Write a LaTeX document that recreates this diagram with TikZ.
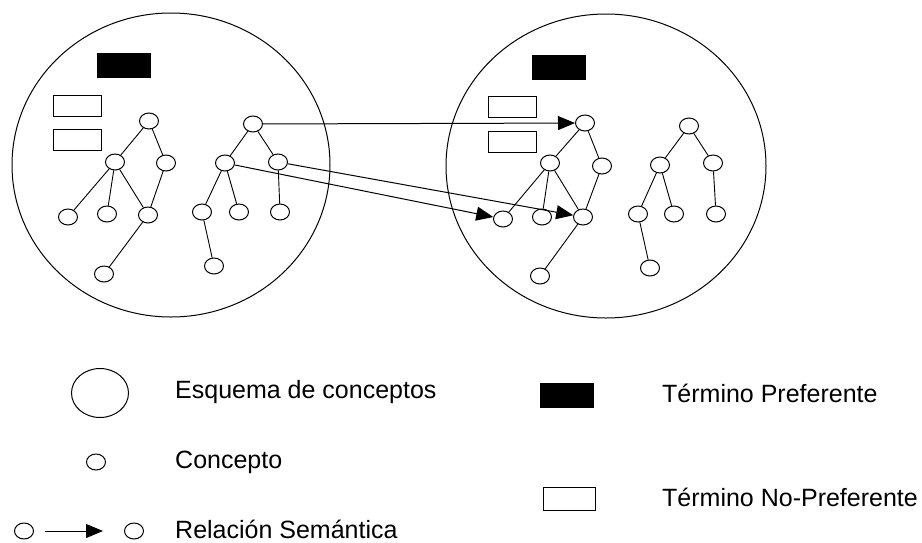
\documentclass[tikz,border=0pt]{standalone}
\usepackage{fontspec}
\setmainfont{Liberation Sans}
\usetikzlibrary{shapes.geometric,arrows.meta}
\begin{document}
\begin{tikzpicture}[x=1pt,y=-1pt,
  schema/.style={draw, ellipse, line width=1pt, inner sep=0pt},
  concept/.style={draw, ellipse, line width=1pt, inner sep=0pt, minimum width=19pt, minimum height=16pt},
  pref/.style={draw, fill=black, inner sep=0pt, minimum width=53pt, minimum height=24pt},
  nopref/.style={draw, fill=white, line width=1pt, inner sep=0pt, minimum width=48pt, minimum height=21pt},
  edge/.style={line width=0.9pt},
  rel/.style={line width=1pt, -{Triangle[length=17pt,width=14pt]}},
  lbl/.style={anchor=west, inner sep=0pt, font=\fontsize{25}{28}\selectfont}
]
\useasboundingbox (0,0) rectangle (922,542);

% ---- left schema
\node[schema, minimum width=318pt, minimum height=304pt] (S1) at (171,165) {};
\node[pref] (P1) at (123.5,65) {};
\node[nopref] (N1a) at (77,105.5) {};
\node[nopref] (N1b) at (77,140) {};
\node[concept] (A) at (149,121) {};
\node[concept] (B) at (115,162) {};
\node[concept] (C) at (166,163) {};
\node[concept] (D) at (68,217) {};
\node[concept] (E) at (107,214) {};
\node[concept] (F) at (148,215) {};
\node[concept] (G) at (104,274) {};
\node[concept] (H) at (253,124) {};
\node[concept] (I) at (225,163) {};
\node[concept] (J) at (278,162) {};
\node[concept] (K) at (202,212) {};
\node[concept] (L) at (239,212) {};
\node[concept] (M) at (280,212) {};
\node[concept] (N) at (214,266) {};
\foreach \u/\v in {A/B,A/C,B/D,B/E,B/F,C/F,F/G,H/I,H/J,I/K,I/L,J/M,K/N}
  \draw[edge] (\u) -- (\v);

% ---- right schema
\node[schema, minimum width=320pt, minimum height=304pt] (S2) at (606,166) {};
\node[pref] (P2) at (559,67) {};
\node[nopref] (N2a) at (512,107) {};
\node[nopref] (N2b) at (512,142) {};
\node[concept] (a) at (585,123) {};
\node[concept] (b) at (550,163) {};
\node[concept] (c) at (602,166) {};
\node[concept] (d) at (503,219) {};
\node[concept] (e) at (542,217) {};
\node[concept] (f) at (583,217) {};
\node[concept] (g) at (540,276) {};
\node[concept] (h) at (689,126) {};
\node[concept] (i) at (660,165) {};
\node[concept] (j) at (713,163) {};
\node[concept] (k) at (638,214) {};
\node[concept] (l) at (674,214) {};
\node[concept] (m) at (716,214) {};
\node[concept] (n) at (650,268) {};
\foreach \u/\v in {a/b,a/c,b/d,b/e,b/f,c/f,f/g,h/i,h/j,i/k,i/l,j/m,k/n}
  \draw[edge] (\u) -- (\v);

% ---- semantic relations between schemas
\draw[rel] (H) -- (a);
\draw[rel] (J) -- (f);
\draw[rel] (I) -- (d);

% ---- legend
\node[schema, minimum width=57pt, minimum height=49pt] (LS) at (100,393) {};
\node[lbl] (tS) at (175,392) {Esquema de conceptos};
\node[concept] (LC) at (96,462) {};
\node[lbl] (tC) at (175,462) {Concepto};
\node[concept] (LR1) at (24,531) {};
\node[concept] (LR2) at (134,531) {};
\draw[rel, shorten <=11pt, shorten >=21pt] (LR1) -- (LR2);
\node[lbl] (tR) at (175,529) {Relación Semántica};
\node[pref] (LP) at (567,395) {};
\node[lbl] (tP) at (662,393) {Término Preferente};
\node[nopref, minimum width=52pt, minimum height=23pt] (LN) at (569,499) {};
\node[lbl] (tN) at (662,497) {Término No-Preferente};
\end{tikzpicture}
\end{document}
